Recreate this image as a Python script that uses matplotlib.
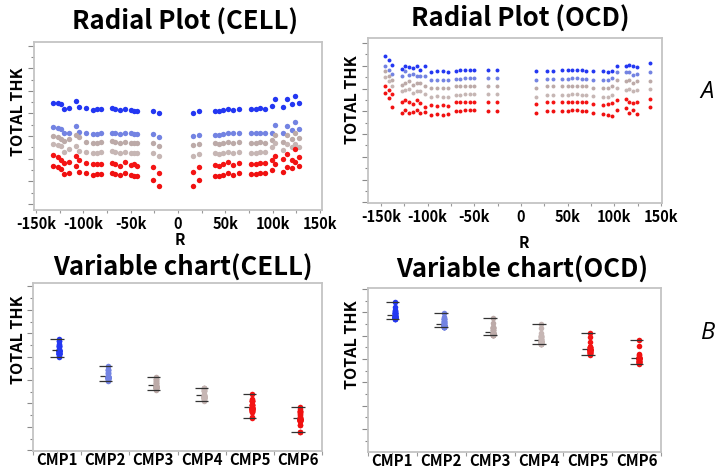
import numpy as np
import matplotlib
matplotlib.use("Agg")
import matplotlib.pyplot as plt
from matplotlib.ticker import MultipleLocator, FixedLocator, NullFormatter

plt.rcParams['font.family'] = ['Noto Sans CJK KR', 'DejaVu Sans']

W, H = 718, 469

CMP_NAMES = ["CMP1", "CMP2", "CMP3", "CMP4", "CMP5", "CMP6"]
CMP_COLORS = ["#2337f2", "#7383e2", "#bcaaa8", "#c6b6b4", "#f41414", "#f01010"]

# ---- CELL radial data (R in k, thickness in arbitrary tick units) ----
r_cell = [-132, -127, -123, -120, -115, -108, -104, -97, -90, -86, -81, -70, -66,
          -61, -56, -50, -46, -43, -26, -20, 16, 22, 39, 43, 47, 53, 58, 64, 77,
          82, 87, 92, 99, 102, 111, 115, 120, 123, 128]

cell_cmp1 = [8.97, 8.90, 8.82, 8.38, 8.53, 9.12, 8.59, 8.50, 8.35, 8.44, 8.44, 8.53, 8.44,
             8.30, 8.44, 8.30, 8.26, 8.24, 8.24, 8.00, 8.06, 8.20, 8.24, 8.20, 8.30, 8.38,
             8.35, 8.44, 8.44, 8.44, 8.53, 8.44, 8.65, 9.30, 8.59, 9.32, 8.88, 9.53, 8.94]
cell_cmp2 = [6.82, 6.68, 6.59, 6.24, 6.29, 6.88, 6.38, 6.29, 6.18, 6.18, 6.24, 6.32, 6.24,
             6.18, 6.29, 6.24, 6.18, 6.15, 6.15, 5.94, 6.00, 6.12, 6.12, 6.09, 6.18, 6.29,
             6.24, 6.29, 6.24, 6.24, 6.29, 6.24, 6.29, 6.97, 6.29, 6.88, 6.53, 7.21, 6.59]
cell_cmp3 = [6.03, 5.94, 5.79, 5.59, 5.71, 6.09, 5.88, 5.50, 5.41, 5.41, 5.44, 5.56, 5.47,
             5.41, 5.50, 5.41, 5.41, 5.35, 5.35, 5.15, 5.21, 5.29, 5.35, 5.29, 5.35, 5.44,
             5.41, 5.47, 5.41, 5.41, 5.47, 5.41, 5.65, 6.09, 5.50, 6.09, 5.71, 6.29, 5.85]
cell_cmp4 = [5.29, 5.21, 5.12, 4.62, 4.82, 5.12, 4.71, 4.62, 4.47, 4.53, 4.62, 4.71, 4.62,
             4.53, 4.62, 4.53, 4.53, 4.47, 4.47, 4.24, 4.26, 4.41, 4.47, 4.41, 4.47, 4.59,
             4.53, 4.62, 4.53, 4.53, 4.62, 4.56, 5.06, 5.35, 4.76, 5.29, 5.06, 5.29, 5.06]
cell_cmp5 = [4.32, 4.18, 3.88, 3.59, 3.74, 4.24, 3.88, 3.59, 3.50, 3.50, 3.50, 3.59, 3.50,
             3.38, 3.68, 3.44, 3.53, 3.38, 3.29, 2.76, 2.85, 3.29, 3.44, 3.38, 3.53, 3.68,
             3.44, 3.59, 3.50, 3.50, 3.59, 3.65, 3.88, 4.24, 3.94, 4.41, 3.88, 4.82, 4.18]
cell_cmp6 = [3.35, 3.29, 3.06, 2.65, 2.76, 3.35, 2.85, 2.71, 2.56, 2.62, 2.65, 2.76, 2.65,
             2.56, 2.71, 2.56, 2.50, 2.47, 2.12, 1.59, 1.59, 2.12, 2.50, 2.47, 2.56, 2.71,
             2.56, 2.71, 2.65, 2.62, 2.71, 2.71, 3.00, 3.50, 2.85, 3.29, 3.15, 3.74, 3.35]

# ---- OCD radial data ----
r_ocd = [-146, -142, -138, -128, -124, -120, -116, -112, -108, -103, -96, -90, -84,
         -78, -70, -65, -60, -55, -50, -35, -26, 16, 28, 34, 44, 50, 55, 60, 65, 70,
         77, 88, 93, 97, 103, 112, 116, 120, 124, 138]

ocd_cmp1 = [12.88, 12.47, 12.09, 11.74, 11.94, 11.88, 11.79, 11.94, 11.65, 11.94, 11.41,
            11.50, 11.50, 11.41, 11.56, 11.59, 11.65, 11.65, 11.65, 11.59, 11.59, 11.50,
            11.56, 11.56, 11.59, 11.59, 11.65, 11.65, 11.59, 11.56, 11.50, 11.50, 11.41,
            11.56, 11.94, 12.00, 12.09, 11.94, 11.88, 12.20]
ocd_cmp2 = [11.94, 11.59, 11.29, 11.12, 11.50, 11.21, 11.29, 11.06, 11.06, 11.12, 10.71,
            10.76, 10.76, 10.71, 10.85, 10.85, 10.91, 10.91, 10.91, 10.91, 10.91, 10.76,
            10.85, 10.85, 10.85, 10.85, 10.91, 10.91, 10.85, 10.85, 10.76, 10.76, 10.71,
            10.91, 11.41, 11.41, 11.41, 11.21, 11.29, 11.41]
ocd_cmp3 = [11.50, 11.12, 10.76, 10.32, 10.47, 10.62, 10.32, 10.47, 10.47, 10.24, 10.03,
            10.03, 10.03, 10.03, 10.18, 10.18, 10.24, 10.24, 10.24, 10.24, 10.24, 10.03,
            10.18, 10.18, 10.18, 10.18, 10.24, 10.24, 10.18, 10.18, 10.03, 10.03, 10.03,
            10.18, 10.76, 10.62, 10.71, 10.47, 10.62, 10.62]
ocd_cmp4 = [10.97, 10.62, 10.24, 9.74, 9.88, 9.94, 9.59, 9.74, 9.74, 9.53, 9.29,
            9.35, 9.29, 9.29, 9.44, 9.44, 9.53, 9.53, 9.53, 9.53, 9.53, 9.29,
            9.44, 9.44, 9.44, 9.44, 9.53, 9.53, 9.44, 9.44, 9.35, 9.29, 9.29,
            9.44, 10.03, 9.88, 9.94, 9.74, 9.88, 9.94]
ocd_cmp5 = [10.24, 9.88, 9.50, 8.85, 9.00, 8.79, 8.62, 9.00, 8.71, 8.35, 8.56,
            8.47, 8.56, 8.47, 8.79, 8.79, 8.85, 8.85, 8.85, 8.85, 8.85, 8.62,
            8.79, 8.79, 8.79, 8.79, 8.85, 8.85, 8.79, 8.79, 8.62, 8.56, 8.62,
            8.71, 9.00, 9.06, 8.85, 8.71, 8.85, 9.06]
ocd_cmp6 = [9.59, 9.15, 8.41, 7.88, 8.12, 7.82, 7.97, 8.12, 7.82, 7.97, 7.68,
            7.76, 7.68, 7.76, 8.06, 8.06, 8.12, 8.12, 8.12, 8.06, 8.06, 7.82,
            8.06, 8.06, 8.06, 8.06, 8.12, 8.12, 8.06, 8.06, 7.88, 7.76, 7.68,
            7.59, 8.12, 8.26, 7.82, 8.12, 7.76, 8.35]

cell_series = [cell_cmp1, cell_cmp2, cell_cmp3, cell_cmp4, cell_cmp5, cell_cmp6]
ocd_series = [ocd_cmp1, ocd_cmp2, ocd_cmp3, ocd_cmp4, ocd_cmp5, ocd_cmp6]

r_ticks = [-150, -100, -50, 0, 50, 100, 150]
r_tick_labels = ["-150k", "-100k", "-50k", "0", "50k", "100k", "150k"]


def px_box(x0, y0, x1, y1):
    """pixel box (top-left origin) -> figure fraction rect"""
    return [x0 / W, 1 - y1 / H, (x1 - x0) / W, (y1 - y0) / H]


def style_frame(ax):
    for s in ax.spines.values():
        s.set_color("#c4c4c4")
        s.set_linewidth(1.3)
    ax.yaxis.set_major_locator(MultipleLocator(2))
    ax.yaxis.set_minor_locator(MultipleLocator(1))
    ax.yaxis.set_major_formatter(NullFormatter())
    ax.tick_params(axis="y", which="major", length=4, width=0.8, color="#8a8a8a")
    ax.tick_params(axis="y", which="minor", length=2.5, width=0.8, color="#8a8a8a")
    ax.tick_params(axis="x", which="both", color="#9a9a9a", width=0.8)


def radial(ax, r, series, ylim, xlim, size, pad):
    for vals, c in zip(series, CMP_COLORS):
        ax.scatter(r, vals, s=size, color=c, linewidths=0, zorder=3)
    ax.set_xlim(*xlim)
    ax.set_ylim(*ylim)
    style_frame(ax)
    ax.set_xticks(r_ticks)
    ax.set_xticklabels(r_tick_labels, fontsize=10.5, fontweight="bold")
    ax.xaxis.set_minor_locator(MultipleLocator(25))
    ax.tick_params(axis="x", which="major", length=2.5, pad=pad)
    ax.tick_params(axis="x", which="minor", length=2.5)


def variable(ax, series, ylim, size):
    for i, (vals, c) in enumerate(zip(series, CMP_COLORS)):
        ax.scatter(np.full(len(vals), i + 0.05), vals, s=size, color=c,
                   linewidths=0, zorder=3)
        lo, hi, mean = min(vals), max(vals), np.mean(vals)
        ax.hlines([lo, hi], i - 0.14, i + 0.14, color="#333333", lw=0.9, zorder=4)
        ax.hlines(mean, i - 0.11, i - 0.01, color="#333333", lw=0.9, zorder=4)
    ax.set_xlim(-0.5, 5.5)
    ax.set_ylim(*ylim)
    style_frame(ax)
    ax.set_xticks(range(6))
    ax.set_xticklabels(CMP_NAMES, fontsize=10.8, fontweight="bold")
    ax.xaxis.set_minor_locator(FixedLocator(np.arange(-0.5, 6, 1)))
    ax.tick_params(axis="x", which="major", length=1.5, pad=-0.5)
    ax.tick_params(axis="x", which="minor", length=3)


fig = plt.figure(figsize=(W / 100, H / 100), dpi=100)

ax1 = fig.add_axes(px_box(34, 42, 322, 210))
radial(ax1, r_cell, cell_series, (-0.53, 14.32), (-152, 152), 15, 2)

ax2 = fig.add_axes(px_box(368, 38, 662, 203))
radial(ax2, r_ocd, ocd_series, (-0.06, 14.44), (-164, 151), 8, 2)

ax3 = fig.add_axes(px_box(33, 283, 322, 451))
variable(ax3, cell_series, (-0.06, 14.29), 16)

ax4 = fig.add_axes(px_box(368, 288, 661, 452))
variable(ax4, ocd_series, (0.03, 14.09), 16)


def ftext(x, y, s, **kw):
    fig.text(x / W, 1 - y / H, s, ha="center", va="center", **kw)


ftext(185, 22, "Radial Plot (CELL)", fontsize=18.5, fontweight="bold")
ftext(520, 19, "Radial Plot (OCD)", fontsize=18.5, fontweight="bold")
ftext(183, 268, "Variable chart(CELL)", fontsize=18.5, fontweight="bold")
ftext(522, 270, "Variable chart(OCD)", fontsize=18.5, fontweight="bold")

ftext(180, 240, "R", fontsize=11, fontweight="bold")
ftext(524, 243, "R", fontsize=11, fontweight="bold")

for x, y in [(18, 112), (352, 100), (18, 340), (352, 345)]:
    ftext(x, y, "TOTAL THK", fontsize=11.5, fontweight="bold", rotation=90)

ftext(707, 92, "A", fontsize=17, style="italic", family="Open Sans")
ftext(708, 333, "B", fontsize=17, style="italic", family="Open Sans")

fig.savefig("out.png", dpi=100)
